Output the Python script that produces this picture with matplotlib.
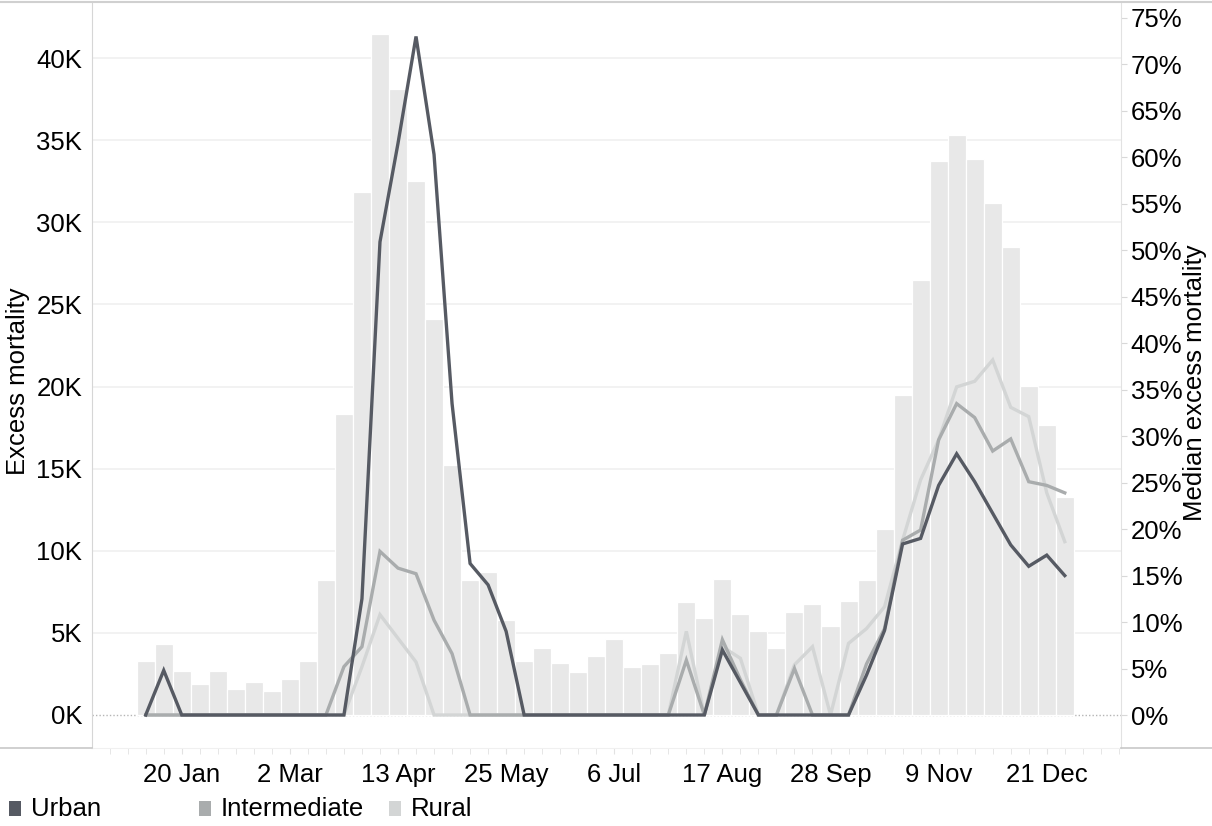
import matplotlib
matplotlib.use("Agg")
import matplotlib.pyplot as plt
import matplotlib.dates as mdates
from matplotlib.patches import Rectangle
from matplotlib.lines import Line2D
import numpy as np
import pandas as pd

plt.rcParams['font.family'] = ['Liberation Sans', 'DejaVu Sans']

# ---------------- data ----------------
first_week = "2020-01-06"
n_weeks = 52
weeks = pd.date_range(first_week, periods=n_weeks, freq="7D")

excess = [3300, 4300, 2700, 1900, 2700, 1600, 2000, 1450, 2200, 3300,
          8250, 18300, 31850, 41450, 38100, 32550, 24100, 15250, 8200, 8700,
          5800, 3300, 4100, 3150, 2600, 3600, 4650, 2900, 3100, 3750,
          6900, 5900, 8300, 6150, 5100, 4100, 6250, 6750, 5400, 6950,
          8250, 11300, 19500, 26500, 33750, 35300, 33850, 31150, 28500, 20050,
          17650, 13300]

urban = [0, 4.8, 0, 0, 0, 0, 0, 0, 0, 0,
         0, 0, 12.5, 50.9, 61.5, 73.0, 60.3, 33.5, 16.3, 14.0,
         9.0, 0, 0, 0, 0, 0, 0, 0, 0, 0,
         0, 0, 7.0, 3.5, 0, 0, 0, 0, 0, 0,
         4.3, 9.1, 18.4, 19.0, 24.7, 28.1, 25.1, 21.7, 18.3, 16.0,
         17.2, 15.0]

intermediate = [0, 0, 0, 0, 0, 0, 0, 0, 0, 0,
                0, 5.2, 7.35, 17.6, 15.8, 15.2, 10.2, 6.6, 0, 0,
                0, 0, 0, 0, 0, 0, 0, 0, 0, 0,
                5.9, 0, 8.1, 3.8, 0, 0, 5.0, 0, 0, 0,
                5.5, 9.3, 18.8, 19.9, 29.6, 33.5, 32.0, 28.4, 29.7, 25.1,
                24.7, 23.9]

rural = [0, 0, 0, 0, 0, 0, 0, 0, 0, 0,
         0, 0, 5.2, 10.8, 8.25, 5.7, 0, 0, 0, 0,
         0, 0, 0, 0, 0, 0, 0, 0, 0, 0,
         9.0, 0, 7.35, 6.1, 0, 0, 5.4, 7.35, 0, 7.7,
         9.3, 11.65, 18.8, 25.3, 29.6, 35.3, 35.9, 38.2, 33.1, 32.1,
         23.9, 18.65]

tick_dates = ["2020-01-20", "2020-03-02", "2020-04-13", "2020-05-25", "2020-07-06",
              "2020-08-17", "2020-09-28", "2020-11-09", "2020-12-21"]
tick_labels = ["20 Jan", "2 Mar", "13 Apr", "25 May", "6 Jul",
               "17 Aug", "28 Sep", "9 Nov", "21 Dec"]

left_ticks = [0, 5000, 10000, 15000, 20000, 25000, 30000, 35000, 40000]
left_labels = ["0K", "5K", "10K", "15K", "20K", "25K", "30K", "35K", "40K"]
right_ticks = list(range(0, 80, 5))
right_labels = [f"{v}%" for v in right_ticks]

series = [("Urban", urban, "#565a63"),
          ("Intermediate", intermediate, "#a9acad"),
          ("Rural", rural, "#d3d5d5")]

# ---------------- layout ----------------
W, H = 1212, 826
fig = plt.figure(figsize=(W / 100, H / 100), dpi=100)
L, R, T, B = 92, 1121, 3, 748
ax = fig.add_axes([L / W, 1 - B / H, (R - L) / W, (B - T) / H])
ax2 = ax.twinx()

FS = 18.5
x = mdates.date2num(weeks)
x0 = x[0]

ax.set_xlim(x0 - 2.98 * 7, x0 + 54.12 * 7)
ax.set_ylim(-2010, 43360)
ax2.set_ylim(-3.55, 76.6)

# gridlines
for v in left_ticks[1:]:
    ax.axhline(v, color="#efefef", lw=1.1, zorder=0)
ax.axhline(0, color="#b5b5b5", lw=1.0, linestyle=(0, (1, 1.5)), zorder=0.5)

# bars
ax.bar(x, excess, width=7, color="#e8e8e8", edgecolor="white", linewidth=0.9, zorder=1)

# lines (drawn light to dark)
for name, vals, col in reversed(series):
    ax2.plot(x, vals, color=col, lw=2.4, solid_joinstyle="miter", zorder=3)

# y axes
ax.set_yticks(left_ticks)
ax.set_yticklabels(left_labels, fontsize=FS)
ax.tick_params(axis="y", length=0, pad=7)
ax2.set_yticks(right_ticks)
ax2.set_yticklabels(right_labels, fontsize=FS)
ax2.tick_params(axis="y", length=4, color="#d8d8d8", pad=3)

# x axis
ax.set_xticks(mdates.date2num(pd.to_datetime(tick_dates)))
ax.set_xticklabels(tick_labels, fontsize=FS)
minor = x0 + 7 * np.arange(-2, 55)
ax.set_xticks(minor, minor=True)
ax.tick_params(axis="x", which="both", length=4, color="#e2e2e2", pad=7)

for s in ["top", "bottom", "left", "right"]:
    ax.spines[s].set_visible(False)
    ax2.spines[s].set_visible(False)
ax.spines["left"].set_visible(True)
ax.spines["left"].set_color("#d6d6d6")
ax2.spines["right"].set_visible(True)
ax2.spines["right"].set_color("#e2e2e2")
ax.spines["bottom"].set_visible(True)
ax.spines["bottom"].set_color("#f0f0f0")

# frame lines outside axes
fig.add_artist(Line2D([0, 1], [1 - 2 / H, 1 - 2 / H], color="#d0d0d0", lw=1.5))
fig.add_artist(Line2D([0, L / W], [1 - B / H, 1 - B / H], color="#c8c8c8", lw=1.2))
fig.add_artist(Line2D([R / W, 1], [1 - B / H, 1 - B / H], color="#c8c8c8", lw=1.2))

# axis titles
fig.text(18 / W, 1 - 381 / H, "Excess mortality", rotation=90, fontsize=FS,
         ha="center", va="center")
fig.text(1195 / W, 1 - 383 / H, "Median excess mortality", rotation=90, fontsize=FS,
         ha="center", va="center")

# legend
leg_x = [9, 199, 389]
for (name, vals, col), lx in zip(series, leg_x):
    fig.add_artist(Rectangle((lx / W, 1 - 816 / H), 12 / W, 15 / H,
                             transform=fig.transFigure, color=col, lw=0))
    fig.text((lx + 22) / W, 1 - 809 / H, name, fontsize=FS, ha="left", va="center")

fig.savefig("out.png", dpi=100)
